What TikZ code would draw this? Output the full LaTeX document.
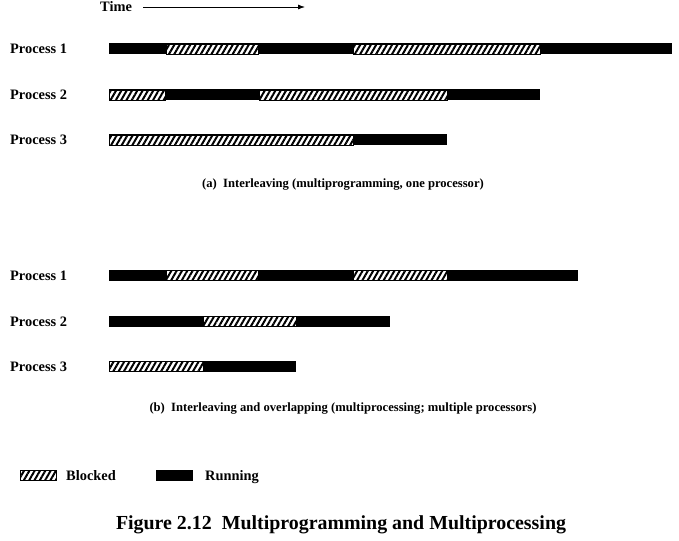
\documentclass[tikz,border=0pt]{standalone}
\usepackage{fontspec}
\setmainfont{Liberation Serif}
\usetikzlibrary{patterns.meta,arrows.meta}

\begin{document}
\begin{tikzpicture}[x=1pt, y=-1pt]

% Set the overall frame of the page
\useasboundingbox (0,0) rectangle (679,540);

% Define styles for labels and bar pieces
\tikzstyle{proc} = [anchor=base west, inner sep=0pt, font=\fontsize{14.4}{16}\selectfont\bfseries]
\tikzstyle{capt} = [anchor=base, inner sep=0pt, font=\fontsize{12.6}{14}\selectfont\bfseries]
\tikzstyle{running} = [fill=black]
\tikzstyle{blocked} = [draw=black, line width=0.6pt, preaction={fill=white},
    pattern={Lines[angle=60, distance=4.6pt, line width=2pt]}]

% Time axis
\node[proc] (time) at (100,12) {Time};
\coordinate (timeend) at (305,7);
\draw[-{Latex[length=7pt, width=5pt]}, line width=0.8pt] (143,7) -- (timeend);

%(a) one processor
\node[proc] (pa1) at (10,54) {Process 1};
\node[proc] (pa2) at (10,100) {Process 2};
\node[proc] (pa3) at (10,145) {Process 3};

\fill[running] (109,43.5) rectangle (672,54.5);
\path[blocked] (166,44) rectangle (258,54);
\path[blocked] (353,44) rectangle (540,54);

\fill[running] (109,89.5) rectangle (540,100.5);
\path[blocked] (109,90) rectangle (165,100);
\path[blocked] (259,90) rectangle (447,100);

\fill[running] (109,134.5) rectangle (447,145.5);
\path[blocked] (109,135) rectangle (353,145);

\node[capt] (capa) at (343,187) {(a)\ \ Interleaving (multiprogramming, one processor)};

%(b) multiple processors
\node[proc] (pb1) at (10,280) {Process 1};
\node[proc] (pb2) at (10,326) {Process 2};
\node[proc] (pb3) at (10,371) {Process 3};

\fill[running] (109,269.5) rectangle (578,280.5);
\path[blocked] (166,270) rectangle (258,280);
\path[blocked] (353,270) rectangle (447,280);

\fill[running] (109,315.5) rectangle (390,326.5);
\path[blocked] (203,316) rectangle (296,326);

\fill[running] (109,360.5) rectangle (296,371.5);
\path[blocked] (109,361) rectangle (203,371);

\node[capt] (capb) at (343,411) {(b)\ \ Interleaving and overlapping (multiprocessing; multiple processors)};

% Legend
\path[blocked] (20,470) rectangle (56,480);
\node[proc] (lblocked) at (66,480) {Blocked};
\fill[running] (156,469.5) rectangle (193,480.5);
\node[proc] (lrunning) at (205,480) {Running};

% Figure title
\node[anchor=base, inner sep=0pt, font=\fontsize{19.9}{22}\selectfont\bfseries] (title) at (341,529)
    {Figure 2.12\ \ Multiprogramming and Multiprocessing};
\end{tikzpicture}
\end{document}
